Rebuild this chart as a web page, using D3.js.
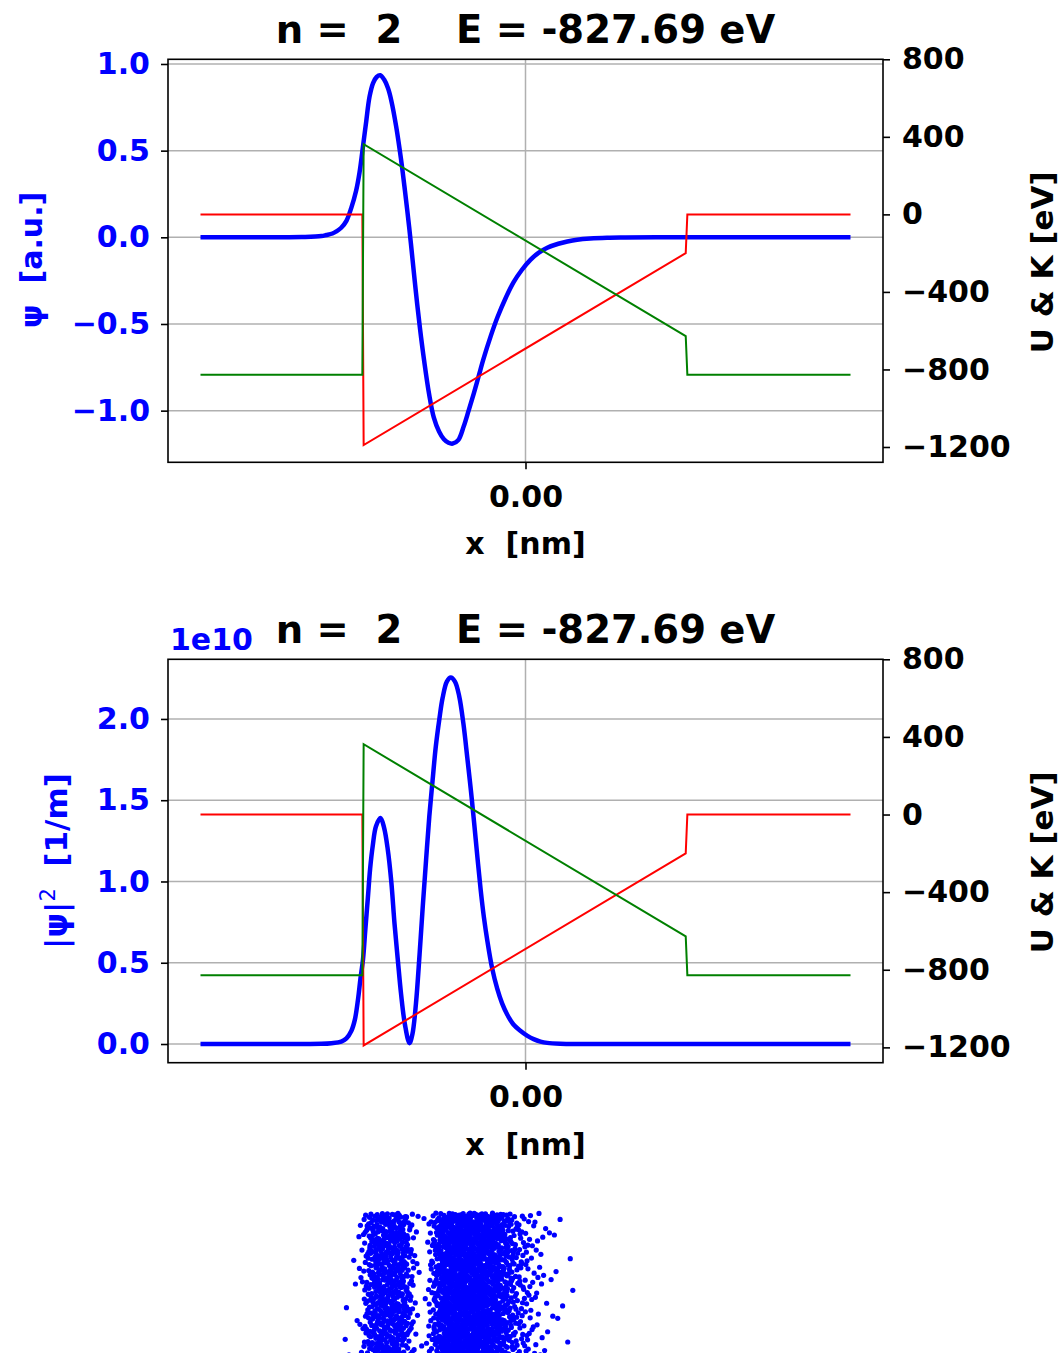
<!DOCTYPE html>
<html><head><meta charset="utf-8">
<script src="https://cdn.jsdelivr.net/npm/d3@7"></script>
<style>
body{margin:0;background:#fff}
text{font-family:"DejaVu Sans",sans-serif;font-weight:bold;white-space:pre}
</style>
</head><body>
<svg id="c" width="1061" height="1353"></svg>
<script>
// ---------- data ----------
const titleText = "n =  2    E = -827.69 eV";
const xTicks = [0];
const psiTicks = [-1.0, -0.5, 0.0, 0.5, 1.0];
const probTicks = [0, 0.5e10, 1.0e10, 1.5e10, 2.0e10];
const energyTicks = [-1200, -800, -400, 0, 400, 800];

// wavefunction psi(x), x in nm
const psiX = [-0.1000,-0.0812,-0.0689,-0.0628,-0.0613,-0.0594,-0.0582,-0.0567,-0.0551,-0.0536,-0.0521,-0.0511,-0.0499,-0.0490,-0.0480,-0.0469,-0.0458,-0.0447,-0.0435,-0.0423,-0.0413,-0.0398,-0.0383,-0.0371,-0.0358,-0.0348,-0.0337,-0.0325,-0.0312,-0.0297,-0.0282,-0.0266,-0.0251,-0.0237,-0.0224,-0.0207,-0.0190,-0.0175,-0.0159,-0.0144,-0.0129,-0.0107,-0.0086,-0.0061,-0.0037,-0.0012,0.0015,0.0040,0.0067,0.0101,0.0129,0.0159,0.0199,0.0251,0.0300,0.0401,0.1000];
const psiV = [0,0,0.002,0.007,0.013,0.022,0.034,0.055,0.095,0.17,0.27,0.37,0.54,0.67,0.81,0.89,0.925,0.935,0.91,0.86,0.79,0.64,0.45,0.27,0.06,-0.12,-0.32,-0.52,-0.71,-0.90,-1.04,-1.12,-1.165,-1.185,-1.19,-1.17,-1.09,-1.00,-0.90,-0.80,-0.70,-0.57,-0.46,-0.35,-0.26,-0.19,-0.13,-0.09,-0.06,-0.037,-0.024,-0.014,-0.007,-0.0025,-0.001,0,0];

// probability density |psi|^2 in 1/m
const probX = [-0.1000,-0.0720,-0.0628,-0.0597,-0.0567,-0.0551,-0.0536,-0.0525,-0.0515,-0.0508,-0.0500,-0.0493,-0.0485,-0.0478,-0.0470,-0.0460,-0.0446,-0.0435,-0.0424,-0.0413,-0.0403,-0.0393,-0.0383,-0.0371,-0.0357,-0.0348,-0.0337,-0.0326,-0.0316,-0.0306,-0.0296,-0.0286,-0.0276,-0.0265,-0.0255,-0.0242,-0.0230,-0.0217,-0.0204,-0.0191,-0.0179,-0.0168,-0.0158,-0.0148,-0.0138,-0.0128,-0.0117,-0.0103,-0.0087,-0.0072,-0.0056,-0.0037,-0.0015,0.0006,0.0025,0.0046,0.0067,0.0107,0.0168,0.0291,0.1000];
const probV = [0,0,0.001e10,0.005e10,0.015e10,0.035e10,0.08e10,0.15e10,0.28e10,0.40e10,0.52e10,0.70e10,0.90e10,1.08e10,1.22e10,1.34e10,1.39e10,1.33e10,1.20e10,1.00e10,0.74e10,0.52e10,0.31e10,0.12e10,0.005e10,0.06e10,0.25e10,0.55e10,0.85e10,1.13e10,1.40e10,1.62e10,1.83e10,2.00e10,2.13e10,2.23e10,2.255e10,2.23e10,2.14e10,1.97e10,1.76e10,1.56e10,1.36e10,1.15e10,0.95e10,0.78e10,0.63e10,0.47e10,0.34e10,0.25e10,0.18e10,0.12e10,0.08e10,0.05e10,0.03e10,0.015e10,0.007e10,0.002e10,0.0005e10,0,0];

// potential U and kinetic K = E - U, in eV
const potX = [-0.1000,-0.0502,-0.0498,0.0493,0.0498,0.1000];
const potU = [0,0,-1190,-200,0,0];
const kinK = [-827.69,-827.69,362.31,-627.69,-827.69,-827.69];

// sampled positions: x-bin centres (nm) and dot counts seen in each bin
const sampleBinX = [-0.0551,-0.0536,-0.0521,-0.0505,-0.0490,-0.0475,-0.0459,-0.0444,-0.0429,-0.0413,-0.0398,-0.0383,-0.0368,-0.0352,-0.0337,-0.0322,-0.0306,-0.0291,-0.0276,-0.0260,-0.0245,-0.0230,-0.0214,-0.0199,-0.0184,-0.0168,-0.0153,-0.0138,-0.0123,-0.0107,-0.0092,-0.0077,-0.0061,-0.0046,-0.0031,-0.0015,0.0000,0.0015,0.0031,0.0046,0.0061,0.0077,0.0092,0.0107,0.0123,0.0138,0.0153];
const sampleBinN = [2,1,3,10,30,52,62,68,68,68,65,60,50,28,9,2,4,22,50,75,92,98,102,102,102,100,98,95,90,84,78,70,60,44,33,27,21,16,12,8,5,3,3,2,1,2,1];

// ---------- drawing ----------
const W = 1061, H = 1353;
const BLUE = "#0000ff", RED = "#ff0000", GREEN = "#008000", GRID = "#b0b0b0";
const svg = d3.select("#c");
svg.append("rect").attr("width", W).attr("height", H).attr("fill", "#fff");

const L = 168, R = 883;
const xDomain = [-0.11, 0.11];
const energyDomain = [-1279, 800];
const x = d3.scaleLinear().domain(xDomain).range([L, R]);

function panel(o) {
  const g = svg.append("g");
  const yL = d3.scaleLinear().domain(o.leftDomain).range([o.bottom, o.top]);
  const yR = d3.scaleLinear().domain(energyDomain).range([o.bottom, o.top]);

  // grid
  g.append("g").selectAll("line").data(o.leftTicks).join("line")
    .attr("x1", L).attr("x2", R).attr("y1", d => yL(d)).attr("y2", d => yL(d))
    .attr("stroke", GRID).attr("stroke-width", 1.5);
  g.append("g").selectAll("line").data(xTicks).join("line")
    .attr("x1", d => x(d)).attr("x2", d => x(d)).attr("y1", o.top).attr("y2", o.bottom)
    .attr("stroke", GRID).attr("stroke-width", 1.5);

  // main curve (left axis)
  const pts = o.curveX.map((v, i) => [v, o.curveV[i]]);
  g.append("path").datum(pts)
    .attr("d", d3.line().x(d => x(d[0])).y(d => yL(d[1])).curve(d3.curveCatmullRom.alpha(0.5)))
    .attr("fill", "none").attr("stroke", BLUE).attr("stroke-width", 4.5)
    .attr("stroke-linejoin", "round").attr("stroke-linecap", "butt");

  // energies (right axis)
  const lineE = d3.line().x(d => x(d[0])).y(d => yR(d[1]));
  g.append("path").datum(potX.map((v, i) => [v, potU[i]]))
    .attr("d", lineE).attr("fill", "none").attr("stroke", RED).attr("stroke-width", 2);
  g.append("path").datum(potX.map((v, i) => [v, kinK[i]]))
    .attr("d", lineE).attr("fill", "none").attr("stroke", GREEN).attr("stroke-width", 2);

  // spines
  g.append("rect").attr("x", L).attr("y", o.top).attr("width", R - L).attr("height", o.bottom - o.top)
    .attr("fill", "none").attr("stroke", "#000").attr("stroke-width", 1.6);

  // axes
  const styleAxis = (sel, color) => {
    sel.select(".domain").remove();
    sel.selectAll(".tick line").attr("stroke", "#000").attr("stroke-width", 1.6);
    sel.selectAll(".tick text").attr("fill", color)
      .style("font-family", '"DejaVu Sans", sans-serif').style("font-weight", "bold").style("font-size", "30px");
  };
  g.append("g").attr("transform", `translate(${L},0)`)
    .call(d3.axisLeft(yL).tickValues(o.leftTicks).tickSize(7).tickPadding(11).tickFormat(o.leftFormat))
    .call(s => styleAxis(s, BLUE));
  g.append("g").attr("transform", `translate(${R},0)`)
    .call(d3.axisRight(yR).tickValues(energyTicks).tickSize(7).tickPadding(12).tickFormat(d3.format("d")))
    .call(s => styleAxis(s, "#000"));
  g.append("g").attr("transform", `translate(0,${o.bottom})`)
    .call(d3.axisBottom(x).tickValues(xTicks).tickSize(7).tickPadding(16).tickFormat(d3.format(".2f")))
    .call(s => styleAxis(s, "#000"));

  // title
  g.append("text").attr("x", (L + R) / 2).attr("y", o.top - 16).attr("text-anchor", "middle")
    .style("font-size", "38.5px").attr("fill", "#000").text(titleText);
  // x label
  g.append("text").attr("x", (L + R) / 2).attr("y", o.bottom + 92).attr("text-anchor", "middle")
    .style("font-size", "30px").attr("fill", "#000").text("x  [nm]");
  // right label
  g.append("text").attr("transform", `translate(1042,${o.top + 203}) rotate(-90)`)
    .attr("text-anchor", "middle").attr("dy", "0.36em")
    .style("font-size", "31px").attr("fill", "#000").text("U & K [eV]");
  return {g, yL};
}

// top panel
const p1 = panel({top: 59.3, bottom: 462.3, leftDomain: [-1.298, 1.027], leftTicks: psiTicks,
  leftFormat: d3.format(".1f"), curveX: psiX, curveV: psiV});
p1.g.append("text").attr("transform", "translate(31,260) rotate(-90)")
  .attr("text-anchor", "middle").attr("dy", "0.36em")
  .style("font-size", "30px").attr("fill", BLUE).text("ψ  [a.u.]");

// bottom panel
const p2 = panel({top: 659.3, bottom: 1062.7, leftDomain: [-0.115e10, 2.367e10], leftTicks: probTicks,
  leftFormat: d => d3.format(".1f")(d / 1e10), curveX: probX, curveV: probV});
const lab = p2.g.append("text").attr("transform", "translate(56,861) rotate(-90)")
  .attr("text-anchor", "middle").attr("dy", "0.36em")
  .style("font-size", "31px").attr("fill", BLUE);
lab.append("tspan").text("|ψ|");
lab.append("tspan").style("font-weight", "normal").style("font-size", "21px").attr("dy", -12).text("2");
lab.append("tspan").attr("dy", 12).text("  [1/m]");
p2.g.append("text").attr("x", 170).attr("y", 650).style("font-size", "30px").attr("fill", BLUE).text("1e10");

// sampled positions (scatter, axes hidden): spread each bin's count over the
// panel with a low-discrepancy layout (inverse of the binned distribution)
const sy = d3.scaleLinear().domain([0, 1]).range([1213, 1360]);
const binW = 0.00153;
function halton(i, b) { let f = 1, r = 0; while (i > 0) { f /= b; r += f * (i % b); i = Math.floor(i / b); } return r; }
const total = d3.sum(sampleBinN);
const cum = Array.from(d3.cumsum(sampleBinN));
const dots = [];
for (let i = 1; i <= total; i++) {
  const u = halton(i, 2) * total, v = halton(i, 3);
  let b = Math.min(d3.bisectRight(cum, u), sampleBinN.length - 1);
  const prev = b ? cum[b - 1] : 0;
  const frac = (u - prev) / sampleBinN[b];
  dots.push([sampleBinX[b] - binW / 2 + frac * binW, v]);
}
svg.append("g").selectAll("circle").data(dots).join("circle")
  .attr("cx", d => x(d[0])).attr("cy", d => sy(d[1])).attr("r", 2.6).attr("fill", BLUE);
</script>
</body></html>
